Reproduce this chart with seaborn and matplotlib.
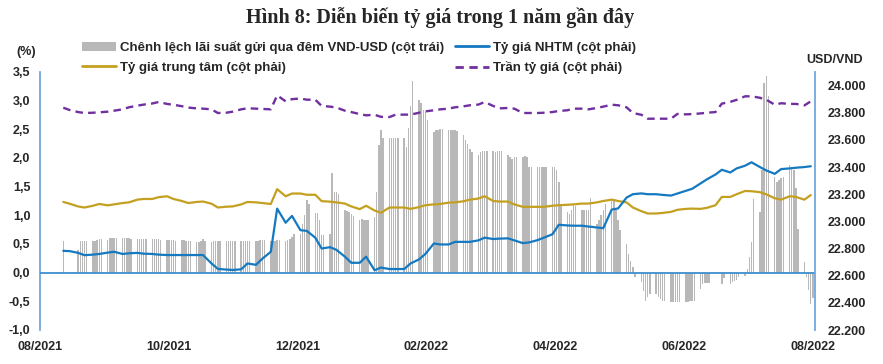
import numpy as np
import pandas as pd
import seaborn as sns
import matplotlib.pyplot as plt
import matplotlib.dates as mdates
from matplotlib.patches import Patch
from matplotlib.lines import Line2D

nan = np.nan

# Chênh lệch lãi suất qua đêm VND-USD (%), one list per week (Mon..Fri), from 09/08/2021
spread_weeks = [
    [0.56, nan, nan, nan, nan],
    [0.40, 0.55, 0.55, 0.56, 0.56],
    [0.55, 0.56, 0.57, 0.58, 0.58],
    [0.57, 0.60, 0.61, 0.61, 0.61],
    [0.61, 0.61, 0.60, 0.60, 0.59],
    [0.58, 0.59, 0.59, 0.59, 0.59],
    [0.59, 0.59, 0.59, 0.58, 0.57],
    [0.57, 0.57, 0.57, 0.57, 0.56],
    [0.57, 0.57, 0.56, 0.56, 0.56],
    [0.53, 0.53, 0.55, 0.58, 0.56],
    [0.54, 0.55, 0.55, 0.56, 0.56],
    [0.56, 0.56, 0.56, 0.56, 0.56],
    [0.56, 0.56, 0.56, 0.56, 0.56],
    [0.55, 0.56, 0.57, 0.57, 0.57],
    [0.56, 0.56, 0.56, 0.57, 0.57],
    [0.56, 0.57, 0.58, 0.62, 0.68],
    [0.68, 0.85, 1.00, 1.26, 1.20],
    [1.04, 1.04, 0.91, 0.65, 0.65],
    [0.68, 1.74, 1.40, 1.40, 1.38],
    [1.10, 1.07, 1.05, 1.02, 0.98],
    [0.91, 0.93, 0.92, 0.91, 0.92],
    [0.97, 1.41, 2.23, 2.49, 2.35],
    [2.35, 2.35, 2.35, 2.35, 2.35],
    [2.35, 2.20, 2.52, 2.90, 3.34],
    [3.02, 2.96, 2.84, 2.80, 2.67],
    [2.46, 2.48, 2.49, 2.50, 2.50],
    [2.49, 2.49, 2.48, 2.48, 2.47],
    [2.40, 2.32, 2.24, 2.15, 2.10],
    [2.05, 2.11, 2.12, 2.12, 2.12],
    [2.12, 2.11, 2.12, 2.12, 2.12],
    [2.05, 2.01, 1.98, 2.02, 2.02],
    [2.01, 2.03, 2.02, 1.84, 1.84],
    [1.84, 1.85, 1.85, 1.85, 1.85],
    [1.84, 1.84, 1.79, 1.58, 1.20],
    [1.06, 1.03, 1.10, 1.20, 1.17],
    [1.10, 1.10, 1.10, 1.10, 1.30],
    [0.85, 0.92, 1.00, 1.10, 1.20],
    [1.25, 1.28, 1.09, 0.92, 0.74],
    [0.50, 0.33, 0.21, 0.10, -0.08],
    [-0.17, -0.32, -0.49, -0.43, -0.37],
    [-0.37, -0.43, -0.46, -0.49, -0.49],
    [-0.52, -0.52, -0.52, -0.52, -0.52],
    [-0.52, -0.52, -0.50, -0.49, -0.49],
    [-0.29, -0.20, -0.18, -0.18, -0.18],
    [nan, nan, nan, -0.20, -0.10],
    [-0.20, -0.17, -0.15, -0.12, -0.08],
    [-0.05, 0.06, 0.27, 0.53, 1.29],
    [1.06, 1.79, 3.30, 3.43, 3.08],
    [1.67, 1.58, 1.62, 1.65, 1.67],
    [1.87, 1.84, 1.79, 1.47, 0.77],
    [0.18, -0.08, -0.30, -0.55, -0.45],
]

# exchange rates (USD/VND), read twice a week (Mon, Thu)
nhtm = [
    22783, 22781, 22768, 22751, 22755, 22760, 22770, 22776, 22760, 22765,
    22768, 22762, 22760, 22755, 22752, 22752, 22752, 22752, 22752, 22752,
    22690, 22650, 22645, 22642, 22647, 22690, 22680, 22725, 22776, 23094,
    22990, 23040, 22935, 22930, 22880, 22800, 22810, 22790, 22740, 22695,
    22695, 22740, 22640, 22660, 22649, 22649, 22649, 22690, 22720, 22760,
    22837, 22830, 22830, 22849, 22849, 22849, 22860, 22880, 22870, 22873,
    22875, 22860, 22840, 22845, 22862, 22880, 22905, 22975, 22970, 22968,
    22968, 22962, 22955, 22950, 23087, 23095, 23175, 23200, 23206, 23200,
    23200, 23195, 23190, 23205, 23225, 23240, 23280, 23310, 23345, 23380,
    23360, 23390, 23410, 23435, 23400, 23375, 23350, 23385, 23390, 23395,
    23400, 23406,
]
trung_tam = [
    23143, 23130, 23110, 23102, 23115, 23128, 23118, 23125, 23135, 23140,
    23160, 23165, 23165, 23178, 23185, 23165, 23150, 23135, 23143, 23146,
    23130, 23102, 23108, 23110, 23125, 23143, 23140, 23135, 23128, 23237,
    23185, 23205, 23205, 23196, 23196, 23149, 23145, 23140, 23131, 23110,
    23090, 23115, 23080, 23063, 23102, 23102, 23102, 23092, 23105, 23119,
    23125, 23128, 23138, 23140, 23148, 23160, 23168, 23185, 23150, 23146,
    23146, 23125, 23107, 23107, 23107, 23107, 23115, 23119, 23122, 23125,
    23131, 23131, 23140, 23150, 23160, 23150, 23140, 23102, 23075, 23058,
    23058, 23062, 23070, 23085, 23092, 23094, 23092, 23100, 23119, 23180,
    23180, 23200, 23224, 23222, 23215, 23199, 23170, 23160, 23185, 23180,
    23160, 23194,
]
tran = [
    23837, 23820, 23805, 23798, 23800, 23803, 23808, 23815, 23825, 23840,
    23852, 23860, 23868, 23879, 23865, 23859, 23848, 23838, 23832, 23830,
    23825, 23798, 23800, 23808, 23825, 23833, 23830, 23828, 23825, 23928,
    23884, 23900, 23905, 23896, 23896, 23850, 23845, 23838, 23815, 23805,
    23790, 23781, 23785, 23770, 23768, 23786, 23786, 23786, 23800, 23810,
    23818, 23825, 23830, 23840, 23847, 23855, 23860, 23879, 23850, 23832,
    23835, 23830, 23798, 23798, 23798, 23800, 23805, 23813, 23818, 23830,
    23830, 23825, 23835, 23845, 23859, 23855, 23840, 23798, 23785, 23756,
    23756, 23756, 23756, 23791, 23788, 23790, 23795, 23800, 23805, 23867,
    23880, 23895, 23921, 23921, 23910, 23896, 23859, 23870, 23865, 23865,
    23854, 23884,
]

x_labels = ['08/2021', '10/2021', '12/2021', '02/2022', '04/2022', '06/2022', '08/2022']
labels = ['Chênh lệch lãi suất gửi qua đêm VND-USD (cột trái)', 'Tỷ giá trung tâm (cột phải)',
          'Tỷ giá NHTM (cột phải)', 'Trần tỷ giá (cột phải)']

c_bar = '#B8B8B8'
c_blue = '#1479C0'
c_gold = '#C4A021'
c_purple = '#7030A0'
c_axis = '#6FA8DC'

sns.set_theme(style='white')
plt.rcParams['font.family'] = ['Liberation Sans', 'DejaVu Sans']

days = pd.bdate_range('2021-08-09', '2022-07-29')
df_bar = pd.DataFrame({'date': mdates.date2num(days),
                       'spread': [v for w in spread_weeks for v in w]})
line_days = days[days.weekday.isin([0, 3])]
df_line = pd.DataFrame({'date': mdates.date2num(line_days), 'nhtm': nhtm,
                        'trung_tam': trung_tam, 'tran': tran})

fig = plt.figure(figsize=(8.83, 3.64), dpi=100)
ax = fig.add_axes([40 / 883, 34 / 364, 775 / 883, 258 / 364])

sns.barplot(data=df_bar, x='date', y='spread', native_scale=True, orient='x', width=0.68,
            color=c_bar, saturation=1, errorbar=None, linewidth=0, ax=ax)
ax.axhline(0, color='#3C8FD0', lw=1.3, zorder=3)

x0 = mdates.date2num(pd.Timestamp('2021-07-29'))
ax.set_xlim(x0, x0 + 366)
ax.set_xticks([x0 + i * 365 / 6 for i in range(7)])
ax.set_xticklabels(x_labels)
ax.set_ylim(-1, 3.5)
yl = np.arange(-1, 3.51, 0.5)
ax.set_yticks(yl)
ax.set_yticklabels([f'{v:.1f}'.replace('.', ',') for v in yl])
ax.set_xlabel('')
ax.set_ylabel('')

ax2 = ax.twinx()
sns.lineplot(data=df_line, x='date', y='trung_tam', color=c_gold, lw=1.6, ax=ax2)
sns.lineplot(data=df_line, x='date', y='nhtm', color=c_blue, lw=1.6, ax=ax2)
sns.lineplot(data=df_line, x='date', y='tran', color=c_purple, lw=1.7,
             linestyle=(0, (3.2, 2.2)), ax=ax2)
ax2.set_ylim(22200, 24100)
yr = np.arange(22200, 24001, 200)
ax2.set_yticks(yr)
ax2.set_yticklabels([f'{v:,}'.replace(',', '.') for v in yr])
ax2.set_ylabel('')
ax2.set_xlim(x0, x0 + 366)

for a in (ax, ax2):
    for s in a.spines.values():
        s.set_visible(False)
    a.tick_params(length=0, labelsize=9)
    for t in a.get_xticklabels() + a.get_yticklabels():
        t.set_fontweight('bold')
    a.grid(False)
ax.spines['left'].set_visible(True)
ax.spines['left'].set_color(c_axis)
ax.spines['left'].set_linewidth(1.3)
ax2.spines['right'].set_visible(True)
ax2.spines['right'].set_color(c_axis)
ax2.spines['right'].set_linewidth(1.3)
ax.tick_params(axis='y', pad=7)
ax.tick_params(axis='x', pad=8)
ax2.tick_params(axis='y', pad=9)

fig.text(0.498, 1 - 18 / 364, 'Hình 8: Diễn biến tỷ giá trong 1 năm gần đây',
         family=['Liberation Serif', 'DejaVu Serif'], fontweight='bold', fontsize=14.5,
         ha='center', va='center')
fig.text(26 / 883, 1 - 52 / 364, '(%)', fontweight='bold', fontsize=9, ha='center', va='center')
fig.text(835 / 883, 1 - 60 / 364, 'USD/VND', fontweight='bold', fontsize=9, ha='center', va='center')

handles = [Patch(facecolor=c_bar, edgecolor='none'),
           Line2D([], [], color=c_gold, lw=2),
           Line2D([], [], color=c_blue, lw=2),
           Line2D([], [], color=c_purple, lw=2, linestyle=(0, (3, 2)))]
fig.legend(handles, labels, ncol=2, loc='upper left', bbox_to_anchor=(82 / 883, 1 - 41 / 364),
           frameon=False, handlelength=2.6, handletextpad=0.25, columnspacing=0.85,
           labelspacing=0.55, borderpad=0, borderaxespad=0,
           prop={'weight': 'bold', 'size': 9.5})

fig.savefig('out.png', dpi=100)
